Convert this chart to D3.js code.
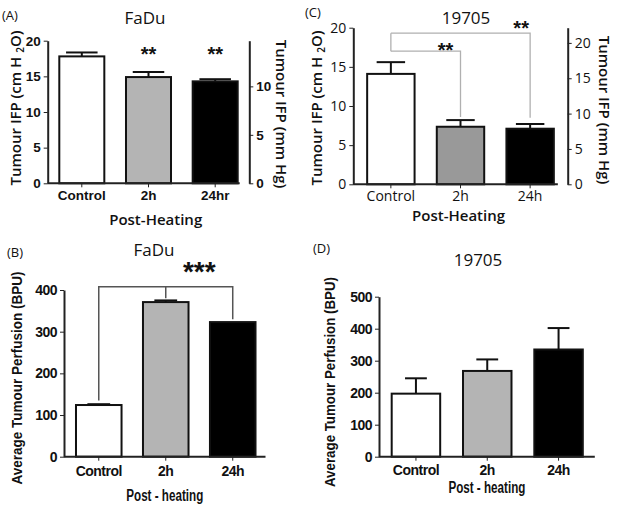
<!DOCTYPE html>
<html>
<head>
<meta charset="utf-8">
<script src="https://cdn.jsdelivr.net/npm/d3@7"></script>
<style>
  body { margin: 0; background: #fff; }
  svg { display: block; }
  .tick line, .domain { stroke: #222; }
</style>
</head>
<body>
<svg id="chart" width="621" height="511"></svg>
<script>
// data ----------------------------------
const groupsA = ['Control', '2h', '24hr'];
const groupsC = ['Control', '2h', '24h'];
const groupsBD = ['Control', '2h', '24h'];

const ifpFadu = [17.8, 14.9, 14.3];
const ifpFaduErr = [0.55, 0.7, 0.3];
const ifp19705 = [14.1, 7.35, 7.1];
const ifp19705Err = [1.5, 0.85, 0.6];
const perfFadu = [124, 371, 323];
const perfFaduErr = [2, 4, 0];
const perf19705 = [197, 268, 335];
const perf19705Err = [48, 36, 67];

const fillsLight = ['#ffffff', '#b4b4b4', '#000000'];
const fillsDark = ['#ffffff', '#999999', '#000000'];

const svg = d3.select('#chart');
const sans = 'Open Sans, sans-serif';
const arial = 'Liberation Sans, Arial, sans-serif';

function panel(o) {
  const g = svg.append('g');
  const x = d3.scaleBand().domain(o.groups).range(o.xr)
    .paddingInner(o.pi).paddingOuter(o.po);
  const y = d3.scaleLinear().domain([0, o.ymax]).range(o.yr);
  const bw = x.bandwidth();

  // bars
  const bars = g.selectAll('g.bar').data(o.values).enter().append('g');
  bars.append('line')
    .attr('x1', (d, i) => x(o.groups[i]) + bw / 2)
    .attr('x2', (d, i) => x(o.groups[i]) + bw / 2)
    .attr('y1', d => y(d))
    .attr('y2', (d, i) => y(d + o.err[i]))
    .attr('stroke', '#111').attr('stroke-width', 2);
  bars.append('line')
    .attr('x1', (d, i) => x(o.groups[i]) + bw / 2 - bw * o.cap / 2)
    .attr('x2', (d, i) => x(o.groups[i]) + bw / 2 + bw * o.cap / 2)
    .attr('y1', (d, i) => y(d + o.err[i]))
    .attr('y2', (d, i) => y(d + o.err[i]))
    .attr('stroke', '#111').attr('stroke-width', 2)
    .attr('display', (d, i) => o.err[i] > 0 ? null : 'none');
  bars.append('rect')
    .attr('x', (d, i) => x(o.groups[i]))
    .attr('width', bw)
    .attr('y', d => y(d))
    .attr('height', d => y(0) - y(d))
    .attr('fill', (d, i) => o.fills[i])
    .attr('stroke', '#111').attr('stroke-width', 2);

  // axes
  const yAxis = d3.axisLeft(y).ticks(o.yticks).tickSize(4).tickPadding(3).tickSizeOuter(0);
  const ga = g.append('g').attr('transform', 'translate(' + o.xr[0] + ',0)').call(yAxis);
  ga.selectAll('text').style('font', o.tickFont).style('letter-spacing', o.ls || null).attr('fill', '#111');
  ga.select('.domain').attr('stroke-width', 2);

  const xAxis = d3.axisBottom(x).tickSize(4).tickPadding(o.xpad).tickSizeOuter(0);
  const gx = g.append('g').attr('transform', 'translate(0,' + o.yr[0] + ')').call(xAxis);
  gx.selectAll('text').style('font', o.tickFont).style('letter-spacing', o.ls || null).attr('fill', '#111');
  const xEnd = x(o.groups[o.groups.length - 1]) + bw + o.xext;
  gx.select('.domain').attr('d', 'M' + o.xr[0] + ',0H' + xEnd).attr('stroke-width', 2);

  if (o.right) {
    const yR = d3.scaleLinear().domain([0, o.right.max]).range([o.yr[0], o.right.top]);
    const ar = d3.axisRight(yR).tickValues(o.right.ticks).tickSize(4).tickPadding(3).tickSizeOuter(0);
    const gr = g.append('g').attr('transform', 'translate(' + o.xr[1] + ',0)').call(ar);
    gr.selectAll('text').style('font', o.tickFont).attr('fill', '#111');
    gr.select('.domain').attr('stroke-width', 2);
    g.append('text')
      .attr('transform', 'translate(' + o.right.lx + ',' + o.right.ly + ') rotate(90)')
      .attr('text-anchor', 'middle').attr('dominant-baseline', 'middle')
      .style('font', o.labelFont).attr('fill', '#111')
      .text(o.right.label);
  }

  // y label
  const yl = g.append('text')
    .attr('transform', 'translate(' + o.ylx + ',' + o.yly + ') rotate(-90)')
    .attr('text-anchor', 'middle').attr('dominant-baseline', 'middle')
    .style('font', o.labelFont).attr('fill', '#111');
  if (o.sub) {
    yl.append('tspan').text('Tumour IFP (cm H ');
    yl.append('tspan').text('2').attr('font-size', '10px').attr('dy', 4);
    yl.append('tspan').text('O)').attr('dy', -4);
  } else {
    yl.text(o.ylabel);
  }
  if (o.ylLen) yl.attr('textLength', o.ylLen).attr('lengthAdjust', 'spacingAndGlyphs');

  // x label, title, panel letter
  const cx = (o.xr[0] + xEnd) / 2;
  const xl = g.append('text').attr('x', cx + o.xlOff).attr('y', o.xly)
    .attr('text-anchor', 'middle').style('font', o.xlFont || o.labelFont).attr('fill', '#111')
    .text(o.xlabel);
  if (o.xlLen) xl.attr('textLength', o.xlLen).attr('lengthAdjust', 'spacingAndGlyphs');
  g.append('text').attr('x', o.tx).attr('y', o.ty)
    .attr('text-anchor', 'middle').style('font', '17px ' + sans).attr('fill', '#111')
    .text(o.title);
  g.append('text').attr('x', o.px).attr('y', o.py)
    .style('font', '13px ' + sans).attr('fill', '#111')
    .text(o.letter);

  return { g, x, y, bw };
}

// (A) FaDu IFP
const A = panel({
  groups: groupsA, values: ifpFadu, err: ifpFaduErr, fills: fillsLight,
  xr: [47.7, 249.3], pi: 0.325, po: 0.174, cap: 0.7, xext: 2,
  ymax: 20, yr: [183.3, 40.7], yticks: 4, xpad: 3,
  tickFont: 'bold 13.5px ' + arial, labelFont: '600 15px ' + sans,
  sub: true, ylx: 17, yly: 108,
  right: { max: 20 / 1.3595, top: 40.7, ticks: [0, 5, 10], lx: 280, ly: 114, label: 'Tumour IFP (mm Hg)' },
  xlabel: 'Post-Heating', xly: 225, xlOff: 12,
  title: 'FaDu', tx: 145, ty: 24, letter: '(A)', px: 2, py: 20
});
groupsA.slice(1).forEach((gname, i) => {
  A.g.append('text').attr('x', A.x(gname) + A.bw / 2).attr('y', 61)
    .attr('text-anchor', 'middle').style('font', 'bold 20px ' + arial).attr('fill', '#111')
    .text('**');
});

// (C) 19705 IFP
const C = panel({
  groups: groupsC, values: ifp19705, err: ifp19705Err, fills: fillsDark,
  xr: [353.3, 567.7], pi: 0.319, po: 0.199, cap: 0.6, xext: 4,
  ymax: 20, yr: [184.3, 27.7], yticks: 4, xpad: 3,
  tickFont: '500 14px ' + sans, labelFont: '600 15px ' + sans,
  sub: true, ylx: 318, yly: 108,
  right: { max: 22.15, top: 27.7, ticks: [0, 5, 10, 15, 20], lx: 603, ly: 110, label: 'Tumour IFP (mm Hg)' },
  xlabel: 'Post-Heating', xly: 221, xlOff: 3,
  title: '19705', tx: 466, ty: 24, letter: '(C)', px: 305, py: 17
});
// significance brackets (C)
const cCtl = C.x('Control') + C.bw / 2;
[['2h', 17.0, 8.6, 17.8, -15], ['24h', 19.3, 8.5, 20.6, -9]].forEach(([gname, yb, ye, ys, dx]) => {
  const xe = C.x(gname) + C.bw / 2;
  C.g.append('path')
    .attr('d', 'M' + cCtl + ',' + C.y(yb) + 'H' + xe + 'V' + C.y(ye))
    .attr('fill', 'none').attr('stroke', '#b0b0b0').attr('stroke-width', 1.3);
  C.g.append('text').attr('x', xe + dx).attr('y', C.y(ys) + 12)
    .attr('text-anchor', 'middle').style('font', 'bold 20px ' + arial).attr('fill', '#111')
    .text('**');
});
C.g.append('line').attr('x1', cCtl).attr('x2', cCtl)
  .attr('y1', C.y(19.3)).attr('y2', C.y(17.0))
  .attr('stroke', '#b0b0b0').attr('stroke-width', 1.3);

// (B) FaDu perfusion
const B = panel({
  groups: groupsBD, values: perfFadu, err: perfFaduErr, fills: fillsLight,
  xr: [64, 267.5], pi: 0.32, po: 0.179, cap: 0.5, xext: 10,
  ymax: 400, yr: [456.7, 290], yticks: 4, xpad: 5,
  tickFont: 'bold 14px ' + arial, ls: '-0.5px', labelFont: 'bold 14px ' + arial,
  sub: false, ylabel: 'Average Tumour Perfusion (BPU)', ylLen: 213, ylx: 18, yly: 378,
  xlabel: 'Post - heating', xlFont: 'bold 16px ' + arial, xlLen: 77, xly: 501, xlOff: 0,
  title: 'FaDu', tx: 154, ty: 256, letter: '(B)', px: 7, py: 257
});
{
  const x0 = B.x('Control') + B.bw / 2, x1 = B.x('2h') + B.bw / 2, x2 = B.x('24h') + B.bw / 2;
  const top = B.y(408);
  B.g.append('path')
    .attr('d', 'M' + x0 + ',' + B.y(135) + 'V' + top + 'H' + x2 + 'V' + B.y(330))
    .attr('fill', 'none').attr('stroke', '#555').attr('stroke-width', 1.5);
  B.g.append('line').attr('x1', x1).attr('x2', x1).attr('y1', top).attr('y2', B.y(380))
    .attr('stroke', '#555').attr('stroke-width', 1.5);
  B.g.append('text').attr('x', (x1 + x2) / 2).attr('y', B.y(408) - 6)
    .attr('text-anchor', 'middle').style('font', 'bold 28px ' + arial).attr('fill', '#111')
    .text('***');
}

// (D) 19705 perfusion
panel({
  groups: groupsBD, values: perf19705, err: perf19705Err, fills: fillsLight,
  xr: [379, 595.5], pi: 0.32, po: 0.178, cap: 0.45, xext: 12,
  ymax: 500, yr: [456.7, 296.7], yticks: 5, xpad: 4,
  tickFont: 'bold 14px ' + arial, ls: '-0.5px', labelFont: 'bold 14px ' + arial,
  sub: false, ylabel: 'Average Tumour Perfusion (BPU)', ylLen: 210, ylx: 331, yly: 382,
  xlabel: 'Post - heating', xlFont: 'bold 16px ' + arial, xlLen: 77, xly: 493, xlOff: 0,
  title: '19705', tx: 478, ty: 266, letter: '(D)', px: 313, py: 253
});
</script>
</body>
</html>
